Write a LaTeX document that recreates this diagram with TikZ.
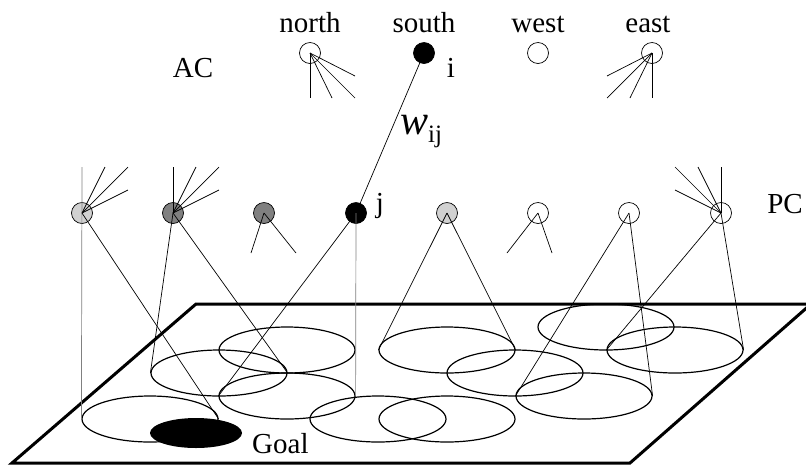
\documentclass[tikz,border=0pt]{standalone}
\usepackage{fontspec}
\setmainfont{Liberation Serif}
\usetikzlibrary{shapes.geometric}
\definecolor{lightcell}{gray}{0.82}
\definecolor{darkcell}{gray}{0.5}

\begin{document}
\begin{tikzpicture}[x=1pt, y=-1pt,
  cell/.style={circle, draw, line width=0.7pt, inner sep=0pt, minimum size=21pt},
  field/.style={ellipse, draw, line width=1.2pt, inner sep=0pt, minimum width=136pt, minimum height=46pt},
  wire/.style={line width=0.7pt},
  lbl/.style={font=\fontsize{29}{34}\selectfont, inner sep=0pt}]
  \useasboundingbox (0,0) rectangle (806,467);

  %% Ground plane
  \draw[line width=3pt] (12,463) -- (196,304) -- (811,304) -- (630,463) -- cycle;

  %% Place fields on the plane
  \node[field] (e1)  at (150,419) {};
  \node[field] (e2)  at (219,373) {};
  \node[field] (e3)  at (287,350) {};
  \node[field] (e4)  at (287,396) {};
  \node[field] (e5)  at (378,419) {};
  \node[field] (e6)  at (447,419) {};
  \node[field] (e7)  at (447,350) {};
  \node[field] (e8)  at (515,373) {};
  \node[field] (e9)  at (584,396) {};
  \node[field] (e10) at (606,327) {};
  \node[field] (e11) at (675,350) {};
  \node[ellipse, fill=black, inner sep=0pt, minimum width=92pt, minimum height=30pt] (goal) at (196,433) {};
  \node[lbl, anchor=base west] (goaltxt) at (252,453) {Goal};

  %% Action cells
  \node[cell] (north) at (310,53) {};
  \node[cell, fill=black] (south) at (424,53) {};
  \node[cell] (west) at (538,53) {};
  \node[cell] (east) at (652,53) {};
  \node[lbl, anchor=base] at (310,32) {north};
  \node[lbl, anchor=base] at (424,32) {south};
  \node[lbl, anchor=base] at (538,32) {west};
  \node[lbl, anchor=base] at (648,32) {east};
  \node[lbl, anchor=base] (ac) at (193,77) {AC};
  \node[lbl, anchor=base] (itxt) at (451,77) {i};

  %% Place cells
  \node[cell, fill=lightcell] (p1) at (82,213) {};
  \node[cell, fill=darkcell]  (p2) at (173,213) {};
  \node[cell, fill=darkcell]  (p3) at (264,213) {};
  \node[cell, fill=black]     (j)  at (356,213) {};
  \node[cell, fill=lightcell] (p5) at (447,213) {};
  \node[cell]                 (p6) at (538,213) {};
  \node[cell]                 (p7) at (629,213) {};
  \node[cell]                 (p8) at (721,213) {};
  \node[lbl, anchor=base] (jtxt) at (380,212) {j};
  \node[lbl, anchor=base] (pc) at (785,213) {PC};

  %% Weight between i and j
  \draw[wire] (south.center) -- (j.center);
  \node[inner sep=0pt] (wij) at (421,132) {\fontsize{42}{44}\selectfont\textit{w}\raisebox{-8pt}{\fontsize{25}{27}\selectfont ij}};

  %% Fans of the action cells
  \foreach \dx/\dy in {0/45, 22/45, 45/45, 45/23}
    \draw[wire] (north.center) -- ++(\dx,\dy);
  \foreach \dx/\dy in {0/45, -22/45, -45/45, -45/23}
    \draw[wire] (east.center) -- ++(\dx,\dy);

  %% Fans of the place cells
  \foreach \dx/\dy in {23/-46, 46/-46, 46/-23}
    \draw[wire] (p1.center) -- ++(\dx,\dy);
  \foreach \dx/\dy in {0/-46, 23/-46, 46/-46, 46/-23}
    \draw[wire] (p2.center) -- ++(\dx,\dy);
  \foreach \dx/\dy in {0/-46, -23/-46, -46/-46, -46/-23}
    \draw[wire] (p8.center) -- ++(\dx,\dy);
  \foreach \dx/\dy in {-13/40, 32/40}
    \draw[wire] (p3.center) -- ++(\dx,\dy);
  \foreach \dx/\dy in {-31/40, 14/40}
    \draw[wire] (p6.center) -- ++(\dx,\dy);

  %% Cones down to the fields
  \draw[wire, darkcell] ([yshift=46pt]p1.center) -- (e1.west);
  \draw[wire] (p1.center) -- (e1.east);
  \draw[wire] (p2.center) -- (e2.west);
  \draw[wire] (p2.center) -- (e2.east);
  \draw[wire] (j.center) -- (e4.west);
  \draw[wire, darkcell] (j.center) -- (e4.east);
  \draw[wire] (p5.center) -- (e7.west);
  \draw[wire] (p5.center) -- (e7.east);
  \draw[wire] (p7.center) -- (e9.west);
  \draw[wire] (p7.center) -- (e9.east);
  \draw[wire] (p8.center) -- (e11.west);
  \draw[wire] (p8.center) -- (e11.east);
\end{tikzpicture}
\end{document}
